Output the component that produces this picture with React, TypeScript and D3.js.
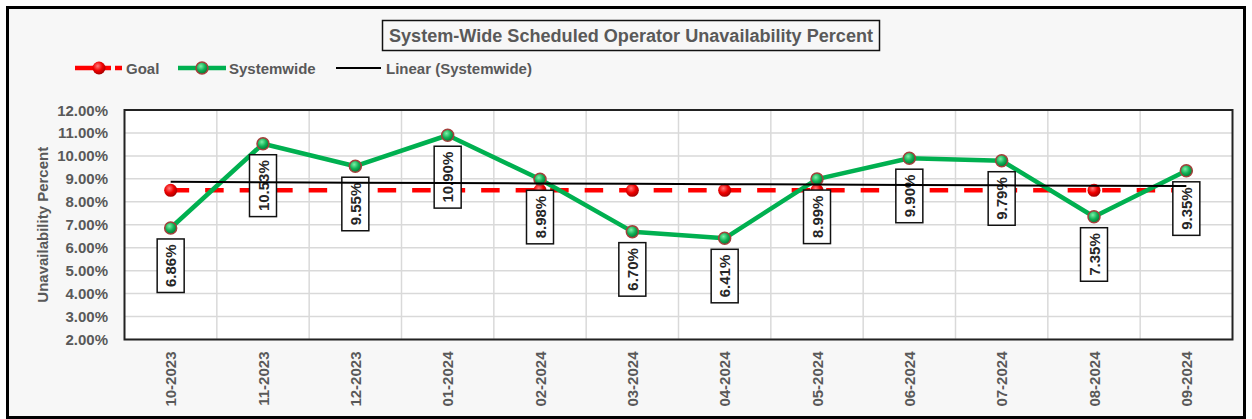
import React from 'react';
import * as d3 from 'd3';

// chart data
const months = ['10-2023', '11-2023', '12-2023', '01-2024', '02-2024', '03-2024',
  '04-2024', '05-2024', '06-2024', '07-2024', '08-2024', '09-2024'];
const systemwide = [0.0686, 0.1053, 0.0955, 0.109, 0.0898, 0.067, 0.0641, 0.0899, 0.099, 0.0979, 0.0735, 0.0935];
const goal = [0.085, 0.085, 0.085, 0.085, 0.085, 0.085, 0.085, 0.085, 0.085, 0.085, 0.085, 0.085];
const yTicks = [0.02, 0.03, 0.04, 0.05, 0.06, 0.07, 0.08, 0.09, 0.1, 0.11, 0.12];

const W = 1252;
const H = 419;
const plot = { left: 124.5, right: 1232.5, top: 110, bottom: 339.5 };
const FONT = '"Liberation Sans", Arial, sans-serif';
const GRAY = '#595959';

const App = () => {
  const x = d3.scalePoint<string>().domain(months).range([plot.left, plot.right]).padding(0.5);
  const y = d3.scaleLinear().domain([0.02, 0.12]).range([plot.bottom, plot.top]);
  const step = x.step();
  const pct = d3.format('.2%');

  // linear trend (least squares) of the systemwide series
  const n = systemwide.length;
  const mx = (n - 1) / 2;
  const my = d3.mean(systemwide) as number;
  const slope = d3.sum(systemwide, (v, i) => (i - mx) * (v - my)) / d3.sum(systemwide, (_, i) => (i - mx) ** 2);
  const trend = (i: number) => my + slope * (i - mx);

  const line = d3.line<number>().x((_, i) => x(months[i]) as number).y(d => y(d));
  const trendLine = d3.line<number>().x(i => x(months[i]) as number).y(i => y(trend(i)));

  const labelSize = 15;
  const measure = (s: string) => {
    // approximate bold Arial widths
    let w = 0;
    for (const c of s) w += c === '.' ? 0.278 : c === '%' ? 0.889 : 0.556;
    return w * labelSize;
  };

  return (
    <svg width={W} height={H} style={{ position: 'absolute', left: 0, top: 0 }} fontFamily={FONT}>
      <defs>
        <radialGradient id="gDot" cx="40%" cy="35%" r="65%">
          <stop offset="0%" stopColor="#7df0a8" />
          <stop offset="55%" stopColor="#12b256" />
          <stop offset="100%" stopColor="#007a35" />
        </radialGradient>
        <radialGradient id="rDot" cx="40%" cy="35%" r="65%">
          <stop offset="0%" stopColor="#ff7a7a" />
          <stop offset="55%" stopColor="#f00000" />
          <stop offset="100%" stopColor="#a80000" />
        </radialGradient>
      </defs>
      <rect x={0} y={0} width={W} height={H} fill="#ffffff" />
      <rect x={7.5} y={7.5} width={W - 15} height={H - 9} fill="#f7f7f7" stroke="#000" strokeWidth={3} />

      {/* title */}
      <rect x={382.5} y={20.5} width={497} height={30} fill="#f7f7f7" stroke="#111" strokeWidth={1.5} />
      <text x={631} y={36} textAnchor="middle" dominantBaseline="central" fontSize={18} fontWeight="bold" fill={GRAY}
        textLength={484} lengthAdjust="spacingAndGlyphs">
        System-Wide Scheduled Operator Unavailability Percent
      </text>

      {/* legend */}
      <g fontSize={15} fontWeight="bold" fill={GRAY}>
        <line x1={75} x2={111} y1={68} y2={68} stroke="#ff0000" strokeWidth={4.5} />
        <line x1={115} x2={122} y1={68} y2={68} stroke="#ff0000" strokeWidth={4.5} />
        <circle cx={99} cy={68} r={6.5} fill="url(#rDot)" />
        <text x={126} y={68} dominantBaseline="central">Goal</text>
        <line x1={178} x2={226} y1={68} y2={68} stroke="#00b050" strokeWidth={4.5} />
        <circle cx={202} cy={68} r={6} fill="url(#gDot)" stroke="#a4403c" strokeWidth={1.5} />
        <text x={229} y={68} dominantBaseline="central">Systemwide</text>
        <line x1={336} x2={381} y1={68} y2={68} stroke="#000" strokeWidth={2} />
        <text x={386} y={68} dominantBaseline="central">Linear (Systemwide)</text>
      </g>

      {/* plot area */}
      <rect x={plot.left} y={plot.top} width={plot.right - plot.left} height={plot.bottom - plot.top} fill="#fff" />
      <g stroke="#d9d9d9" strokeWidth={1.5}>
        {yTicks.map(t => (
          <line key={t} x1={plot.left} x2={plot.right} y1={y(t)} y2={y(t)} />
        ))}
        {months.slice(1).map(m => (
          <line key={m} x1={(x(m) as number) - step / 2} x2={(x(m) as number) - step / 2} y1={plot.top} y2={plot.bottom} />
        ))}
      </g>
      <rect x={plot.left} y={plot.top} width={plot.right - plot.left} height={plot.bottom - plot.top} fill="none" stroke="#222" strokeWidth={2} />

      {/* y axis */}
      <g fontSize={15} fontWeight="bold" fill={GRAY} textAnchor="end">
        {yTicks.map(t => (
          <text key={t} x={108} y={y(t)} dominantBaseline="central">{pct(t)}</text>
        ))}
      </g>
      <text transform={`translate(42,${(plot.top + plot.bottom) / 2}) rotate(-90)`} textAnchor="middle"
        dominantBaseline="central" fontSize={15} fontWeight="bold" fill={GRAY}>
        Unavailability Percent
      </text>

      {/* x axis */}
      <g fontSize={15} fontWeight="bold" fill={GRAY}>
        {months.map(m => (
          <text key={m} transform={`translate(${x(m)},${plot.bottom + 12}) rotate(-90)`} textAnchor="end"
            dominantBaseline="central">{m}</text>
        ))}
      </g>

      {/* goal */}
      <path d={line(goal) as string} fill="none" stroke="#ff0000" strokeWidth={4.5} strokeDasharray="18.5,16" />
      {goal.map((v, i) => (
        <circle key={i} cx={x(months[i])} cy={y(v)} r={6.5} fill="url(#rDot)" />
      ))}

      {/* systemwide */}
      <path d={line(systemwide) as string} fill="none" stroke="#00b050" strokeWidth={4.5} strokeLinejoin="round" />
      {systemwide.map((v, i) => (
        <circle key={i} cx={x(months[i])} cy={y(v)} r={6} fill="url(#gDot)" stroke="#a4403c" strokeWidth={1.5} />
      ))}

      {/* data labels */}
      {systemwide.map((v, i) => {
        const cx = x(months[i]) as number;
        const top = y(v) + 11;
        const s = pct(v);
        const h = measure(s) + 11;
        return (
          <g key={i}>
            <rect x={cx - 13.5} y={top} width={27} height={h} fill="#fff" stroke="#111" strokeWidth={1.5} />
            <text transform={`translate(${cx},${top + h / 2}) rotate(-90)`} textAnchor="middle" dominantBaseline="central"
              fontSize={labelSize} fontWeight="bold" fill="#262626">{s}</text>
          </g>
        );
      })}

      {/* linear trend */}
      <path d={trendLine(d3.range(n)) as string} fill="none" stroke="#000" strokeWidth={2} />
    </svg>
  );
};

export default App;
